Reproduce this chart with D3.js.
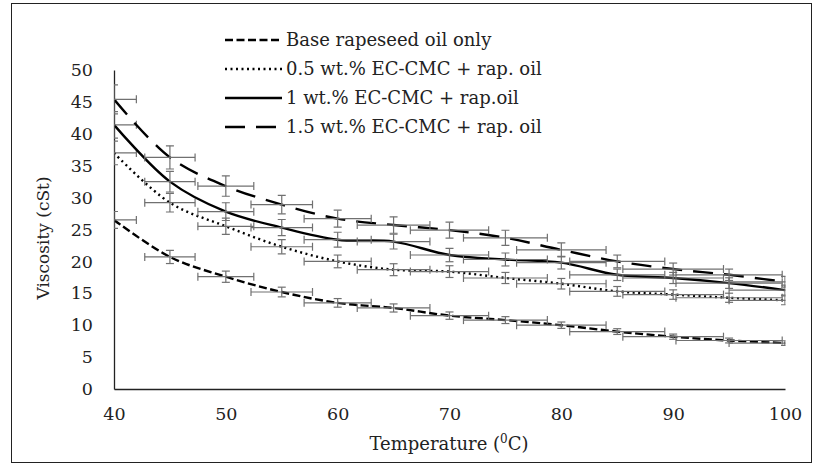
<!DOCTYPE html>
<html><head><meta charset="utf-8">
<script src="https://cdn.jsdelivr.net/npm/d3@7"></script>
<style>
html,body{margin:0;padding:0;background:#fff;}
text{font-family:"DejaVu Serif",serif;fill:#222;}
</style></head>
<body><svg id="c" width="823" height="474"></svg>
<script>
const temps = [40,45,50,55,60,65,70,75,80,85,90,95,100];
const baseOil = [26.5,20.7,17.6,15.2,13.5,12.7,11.5,10.8,10.0,9.0,8.2,7.6,7.2];
const ec05 = [37.0,29.2,25.5,22.3,20.0,18.7,18.4,17.4,16.5,15.3,14.8,14.3,13.9];
const ec10 = [41.4,32.5,27.8,25.3,23.4,23.1,21.0,20.3,19.8,17.9,17.4,16.6,15.5];
const ec15 = [45.4,36.3,31.8,28.9,26.7,25.7,24.9,23.7,21.8,20.0,18.8,17.9,16.8];
const seriesNames = ["Base rapeseed oil only","0.5 wt.% EC-CMC + rap. oil","1 wt.% EC-CMC + rap.oil","1.5 wt.% EC-CMC + rap. oil"];
const xTicks = [40,50,60,70,80,90,100];
const yTicks = [0,5,10,15,20,25,30,35,40,45,50];
const errorPercent = 5; // Excel percentage error bars (x and y)

const svg = d3.select("#c");
svg.append("rect").attr("x",11.5).attr("y",3.5).attr("width",800).attr("height",459)
  .attr("fill","#fff").attr("stroke","#222").attr("stroke-width",1);

const L=114, R=785, T=70, B=389;
const x = d3.scaleLinear().domain([40,100]).range([L,R]);
const y = d3.scaleLinear().domain([0,50]).range([B,T]);

svg.append("defs").append("clipPath").attr("id","pa").append("rect")
  .attr("x",L).attr("y",T-2).attr("width",R-L+0.5).attr("height",B-T+2);

// axes
const xAxis = svg.append("g").attr("transform",`translate(0,${B})`)
  .call(d3.axisBottom(x).tickValues(xTicks).tickSize(0).tickPadding(19));
const yAxis = svg.append("g").attr("transform",`translate(${L},0)`)
  .call(d3.axisLeft(y).tickValues(yTicks).tickSize(0).tickPadding(21));
[xAxis,yAxis].forEach(g=>{
  g.select(".domain").attr("stroke","#222").attr("stroke-width",1.3);
  g.selectAll("text").style("font-family","DejaVu Serif").style("font-size","17.5px").attr("fill","#222");
});

svg.append("text").attr("x",449).attr("y",450).attr("text-anchor","middle")
  .style("font-size","18px").html('Temperature (<tspan baseline-shift="super" font-size="12px">0</tspan>C)');
svg.append("text").attr("transform","translate(49,238) rotate(-90)").attr("text-anchor","middle")
  .style("font-size","17px").text("Viscosity (cSt)");

const data = [baseOil, ec05, ec10, ec15];
const dashes = ["8,3.5","2,3.5",null,"20,11"];
const line = d3.line().x((d,i)=>x(temps[i])).y(d=>y(d)).curve(d3.curveCatmullRom.alpha(0.5));

const plot = svg.append("g").attr("clip-path","url(#pa)");
const ebColor = "#707070";
data.forEach((vals,si)=>{
  plot.append("path").datum(vals).attr("d",line).attr("fill","none")
    .attr("stroke","#000").attr("stroke-width",2.4)
    .attr("stroke-dasharray",dashes[si]);
  const eb = plot.append("g").attr("stroke",ebColor).attr("stroke-width",1.2).attr("fill","none");
  vals.forEach((v,i)=>{
    const t = temps[i], ex = t*errorPercent/100, ey = v*errorPercent/100;
    const cx = x(t), cy = y(v);
    eb.append("line").attr("x1",x(t-ex)).attr("x2",x(t+ex)).attr("y1",cy).attr("y2",cy);
    eb.append("line").attr("x1",x(t-ex)).attr("x2",x(t-ex)).attr("y1",cy-4).attr("y2",cy+4);
    eb.append("line").attr("x1",x(t+ex)).attr("x2",x(t+ex)).attr("y1",cy-4).attr("y2",cy+4);
    eb.append("line").attr("x1",cx).attr("x2",cx).attr("y1",y(v-ey)).attr("y2",y(v+ey));
    eb.append("line").attr("x1",cx-4).attr("x2",cx+4).attr("y1",y(v-ey)).attr("y2",y(v-ey));
    eb.append("line").attr("x1",cx-4).attr("x2",cx+4).attr("y1",y(v+ey)).attr("y2",y(v+ey));
  });
});

// legend
const legY = [40,69,98,127];
seriesNames.forEach((n,i)=>{
  svg.append("line").attr("x1",225).attr("x2",282).attr("y1",legY[i]).attr("y2",legY[i])
    .attr("stroke","#000").attr("stroke-width",2.4).attr("stroke-dasharray",dashes[i]);
  svg.append("text").attr("x",286).attr("y",legY[i]+6).style("font-size","18px").text(n);
});
</script></body></html>
